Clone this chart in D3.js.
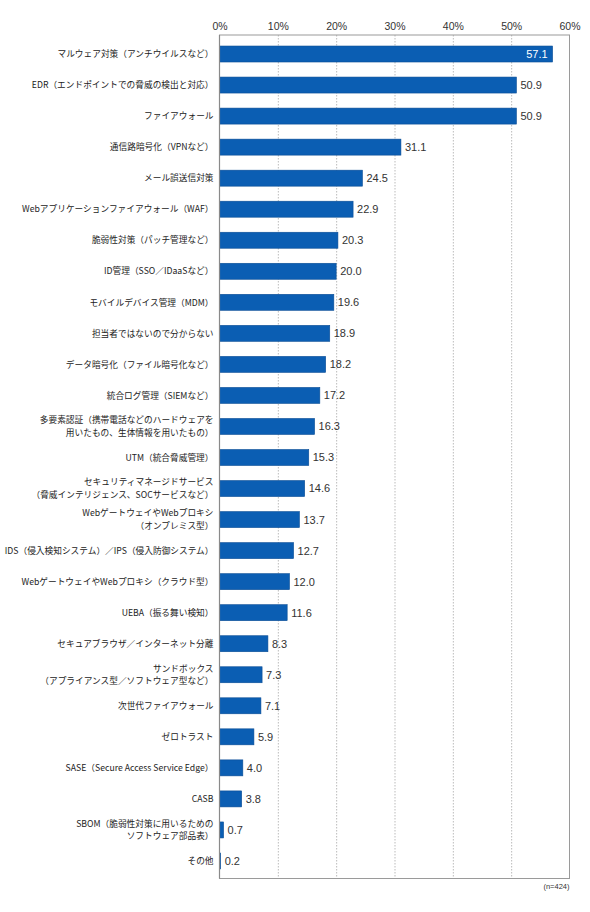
<!DOCTYPE html>
<html>
<head>
<meta charset="utf-8">
<script src="https://cdn.jsdelivr.net/npm/d3@7"></script>
<style>
  body { margin: 0; background: #fff; }
  svg text { font-family: "Noto Sans CJK JP", "Noto Sans", sans-serif; }
  svg text.num { font-family: "Liberation Sans", "Noto Sans", sans-serif; }
</style>
</head>
<body>
<svg id="chart" width="590" height="912"></svg>
<script>
// labels (\n = line break in the original), values in %
const categories = [
  'マルウェア対策（アンチウイルスなど）',
  'EDR（エンドポイントでの脅威の検出と対応）',
  'ファイアウォール',
  '通信路暗号化（VPNなど）',
  'メール誤送信対策',
  'Webアプリケーションファイアウォール（WAF）',
  '脆弱性対策（パッチ管理など）',
  'ID管理（SSO／IDaaSなど）',
  'モバイルデバイス管理（MDM）',
  '担当者ではないので分からない',
  'データ暗号化（ファイル暗号化など）',
  '統合ログ管理（SIEMなど）',
  '多要素認証（携帯電話などのハードウェアを\n用いたもの、生体情報を用いたもの）',
  'UTM（統合脅威管理）',
  'セキュリティマネージドサービス\n（脅威インテリジェンス、SOCサービスなど）',
  'WebゲートウェイやWebプロキシ\n（オンプレミス型）',
  'IDS（侵入検知システム）／IPS（侵入防御システム）',
  'WebゲートウェイやWebプロキシ（クラウド型）',
  'UEBA（振る舞い検知）',
  'セキュアブラウザ／インターネット分離',
  'サンドボックス\n（アプライアンス型／ソフトウェア型など）',
  '次世代ファイアウォール',
  'ゼロトラスト',
  'SASE（Secure Access Service Edge）',
  'CASB',
  'SBOM（脆弱性対策に用いるための\nソフトウェア部品表）',
  'その他'
]
const values = [57.1, 50.9, 50.9, 31.1, 24.5, 22.9, 20.3, 20.0, 19.6, 18.9, 18.2, 17.2, 16.3, 15.3,
  14.6, 13.7, 12.7, 12.0, 11.6, 8.3, 7.3, 7.1, 5.9, 4.0, 3.8, 0.7, 0.2]
const ticks = [0, 10, 20, 30, 40, 50, 60]
const note = '(n=424)'

const svg = d3.select('#chart')
const frameTop = 35
const frameBottom = 878.5
const lineHeight = 12.6

const x = d3.scaleLinear().domain([0, 60]).range([219.5, 569.5])
const y = d3.scaleBand().domain(d3.range(categories.length))
  .range([38.5, 876.5])
  .paddingInner(0.485)
  .paddingOuter(0.2425)

// dotted gridlines
svg.append('g').selectAll('line')
  .data(ticks.slice(1, -1))
  .join('line')
  .attr('x1', d => x(d) + 0.5)
  .attr('x2', d => x(d) + 0.5)
  .attr('y1', frameTop)
  .attr('y2', frameBottom)
  .attr('stroke', '#aaa')
  .attr('stroke-width', 0.8)
  .attr('stroke-dasharray', '1.5,1.5')

// frame
svg.append('rect')
  .attr('x', x(0))
  .attr('y', frameTop)
  .attr('width', x(60) - x(0))
  .attr('height', frameBottom - frameTop)
  .attr('fill', 'none')
  .attr('stroke', '#9a9a9a')
  .attr('stroke-width', 1)

// top axis labels
const axis = svg.append('g').attr('transform', `translate(0,${frameTop})`)
  .call(d3.axisTop(x).tickValues(ticks).tickFormat(d => d + '%').tickSize(0).tickPadding(5))
axis.select('.domain').remove()
axis.selectAll('text')
  .attr('class', 'num')
  .attr('font-size', '10.5px')
  .attr('fill', '#333')

// bars
svg.append('g').selectAll('rect')
  .data(values)
  .join('rect')
  .attr('x', x(0))
  .attr('y', (d, i) => y(i))
  .attr('width', d => x(d) - x(0))
  .attr('height', y.bandwidth())
  .attr('fill', '#0b5eb3')
  .attr('stroke', '#0a4d95')
  .attr('stroke-width', 0.6)

// left axis line over bars
svg.append('line')
  .attr('x1', x(0)).attr('x2', x(0))
  .attr('y1', frameTop).attr('y2', frameBottom)
  .attr('stroke', '#8a8a8a')
  .attr('stroke-width', 1.2)

// value labels
svg.append('g').selectAll('text')
  .data(values)
  .join('text')
  .attr('class', 'num')
  .attr('x', (d, i) => i === 0 ? x(d) - 5 : x(d) + 4)
  .attr('y', (d, i) => y(i) + y.bandwidth() / 2)
  .attr('dy', '0.36em')
  .attr('text-anchor', (d, i) => i === 0 ? 'end' : 'start')
  .attr('font-size', '11px')
  .attr('fill', (d, i) => i === 0 ? '#fff' : '#333')
  .text(d => d.toFixed(1))

// category labels, one text per line so wrapped labels stay apart
const labelGroups = svg.append('g').selectAll('g')
  .data(categories)
  .join('g')
  .attr('transform', (d, i) => `translate(${x(0) - 6},${y(i) + y.bandwidth() / 2})`)

labelGroups.each(function (d) {
  const lines = d.split('\n')
  d3.select(this).selectAll('text')
    .data(lines)
    .join('text')
    .attr('y', (line, j) => 3.2 + (j - (lines.length - 1) / 2) * lineHeight)
    .attr('text-anchor', 'end')
    .attr('font-size', '8.7px')
    .attr('fill', '#222')
    .text(line => line)
})

svg.append('text')
  .attr('class', 'num')
  .attr('x', x(60))
  .attr('y', 889)
  .attr('text-anchor', 'end')
  .attr('font-size', '7.5px')
  .attr('fill', '#333')
  .text(note)
</script>
</body>
</html>
